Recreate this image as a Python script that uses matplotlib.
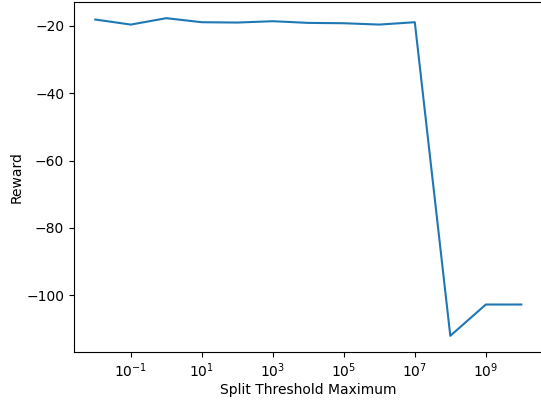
import matplotlib
matplotlib.use("Agg")
import matplotlib.pyplot as plt

thresholds = [1e-2, 1e-1, 1e0, 1e1, 1e2, 1e3, 1e4, 1e5, 1e6, 1e7, 1e8, 1e9, 1e10]
rewards = [-18.1, -19.6, -17.7, -18.9, -19.0, -18.6, -19.1, -19.2, -19.6, -18.9, -112.1, -102.8, -102.8]

fig = plt.figure(figsize=(5.41, 4.0), dpi=100)
ax = fig.add_axes([74 / 541, 1 - 351.7 / 400, 468.6 / 541, 349.4 / 400])
ax.plot(thresholds, rewards)
ax.set_xscale("log")
ax.set_xlabel("Split Threshold Maximum", labelpad=2.5)
ax.set_ylabel("Reward", labelpad=2.0)

fig.savefig("out.png", dpi=100)
